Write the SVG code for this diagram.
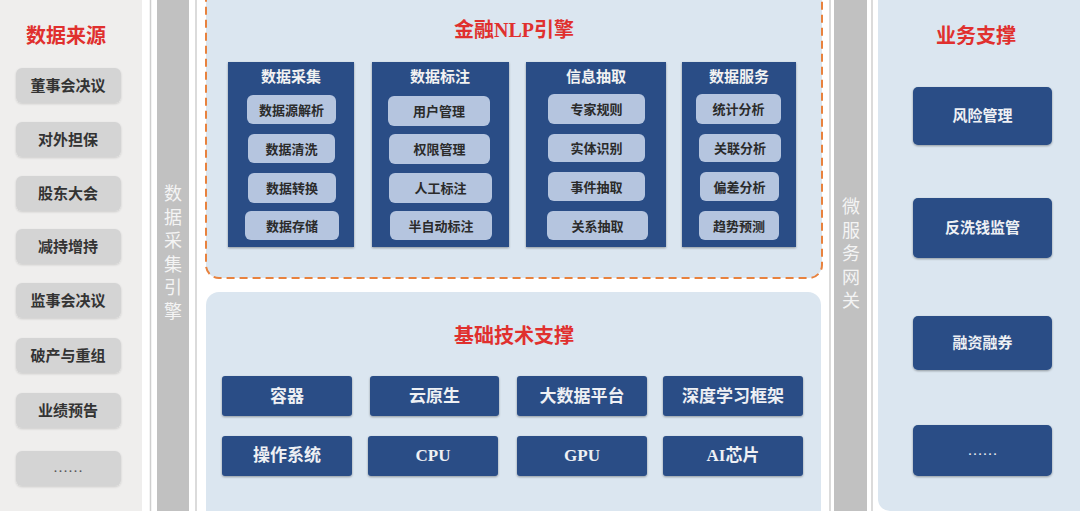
<svg xmlns="http://www.w3.org/2000/svg" width="1080" height="511" viewBox="0 0 1080 511">
<defs>
<style>
.t{font-family:"Liberation Serif","Noto Sans CJK SC",serif;font-weight:bold;text-anchor:middle;dominant-baseline:central}
.red{fill:#e0302e;font-size:20px}
.src{fill:#d4d4d4}
.srct{fill:#333;font-size:15px}
.col{fill:#294d86}
.sub{fill:#b5c5df}
.subt{fill:#2b2b2b;font-size:13px}
.colt{fill:#f2f2f2;font-size:15px}
.blu{fill:#294d86}
.blut{fill:#eef0f4;font-size:17px}
.bizt{fill:#eef0f4;font-size:15px}
.vt{font-family:"Noto Sans CJK SC",sans-serif;fill:#f4f4f4;font-size:18px;text-anchor:middle}
.panel{fill:#dbe6f0}
.thin{stroke:#cfcfcf;stroke-width:1.5}
</style>
<filter id="sh" x="-10%" y="-10%" width="120%" height="130%">
<feDropShadow dx="0" dy="1" stdDeviation="1.2" flood-color="#000" flood-opacity="0.35"/>
</filter>
<filter id="sh2" x="-10%" y="-10%" width="120%" height="130%">
<feDropShadow dx="0" dy="1" stdDeviation="1" flood-color="#000" flood-opacity="0.15"/>
</filter>
</defs>
<rect width="1080" height="511" fill="#ffffff"/>

<!-- Left data source panel -->
<g id="sources">
<rect x="0" y="0" width="142" height="511" fill="#efeeed"/>
<text class="t red" x="66" y="36">数据来源</text>
<g filter="url(#sh2)">
<rect class="src" x="16" y="68" width="105" height="35" rx="6"/>
<rect class="src" x="16" y="122" width="105" height="35" rx="6"/>
<rect class="src" x="16" y="176" width="105" height="35" rx="6"/>
<rect class="src" x="16" y="229" width="105" height="35" rx="6"/>
<rect class="src" x="16" y="283" width="105" height="35" rx="6"/>
<rect class="src" x="16" y="338" width="105" height="35" rx="6"/>
<rect class="src" x="16" y="393" width="105" height="35" rx="6"/>
<rect class="src" x="16" y="451" width="105" height="35" rx="6"/>
</g>
<text class="t srct" x="68" y="86">董事会决议</text>
<text class="t srct" x="68" y="140">对外担保</text>
<text class="t srct" x="68" y="194">股东大会</text>
<text class="t srct" x="68" y="247">减持增持</text>
<text class="t srct" x="68" y="301">监事会决议</text>
<text class="t srct" x="68" y="356">破产与重组</text>
<text class="t srct" x="68" y="411">业绩预告</text>
<text class="t srct" x="68" y="467" style="font-weight:normal;fill:#555">……</text>
</g>

<!-- Data collection engine bar -->
<g id="collect-engine">
<line class="thin" x1="150.5" y1="0" x2="150.5" y2="511"/>
<line class="thin" x1="196" y1="0" x2="196" y2="511"/>
<rect x="157" y="0" width="32" height="511" fill="#c1c1c1"/>
<text class="vt" x="173" y="200"><tspan x="173">数</tspan><tspan x="173" dy="23.5">据</tspan><tspan x="173" dy="23.5">采</tspan><tspan x="173" dy="23.5">集</tspan><tspan x="173" dy="23.5">引</tspan><tspan x="173" dy="23.5">擎</tspan></text>
</g>

<!-- Microservice gateway bar -->
<g id="gateway">
<line class="thin" x1="830" y1="0" x2="830" y2="511"/>
<line class="thin" x1="872" y1="0" x2="872" y2="511"/>
<rect x="834" y="0" width="33" height="511" fill="#c1c1c1"/>
<text class="vt" x="851" y="213"><tspan x="851">微</tspan><tspan x="851" dy="23.5">服</tspan><tspan x="851" dy="23.5">务</tspan><tspan x="851" dy="23.5">网</tspan><tspan x="851" dy="23.5">关</tspan></text>
</g>

<!-- NLP engine -->
<g id="nlp-engine">
<rect x="206" y="-12" width="616" height="290" rx="13" fill="#dbe6f0" stroke="#e8823e" stroke-width="2" stroke-dasharray="8 5"/>
<text class="t red" x="514" y="30">金融NLP引擎</text>
</g>

<g id="col-collect">
<rect class="col" x="228" y="62" width="126" height="185" filter="url(#sh)"/>
<text class="t colt" x="291" y="77">数据采集</text>
<rect class="sub" x="247" y="95" width="89" height="29" rx="6"/>
<rect class="sub" x="248" y="134" width="87" height="29" rx="6"/>
<rect class="sub" x="248" y="173" width="88" height="30" rx="6"/>
<rect class="sub" x="245" y="211" width="94" height="29" rx="6"/>
<text class="t subt" x="291.5" y="110">数据源解析</text>
<text class="t subt" x="291.5" y="149">数据清洗</text>
<text class="t subt" x="292" y="188">数据转换</text>
<text class="t subt" x="292" y="226">数据存储</text>
</g>

<g id="col-label">
<rect class="col" x="372" y="62" width="137" height="185" filter="url(#sh)"/>
<text class="t colt" x="440" y="77">数据标注</text>
<rect class="sub" x="388" y="96" width="102" height="30" rx="6"/>
<rect class="sub" x="389" y="134" width="101" height="30" rx="6"/>
<rect class="sub" x="389" y="173" width="103" height="30" rx="6"/>
<rect class="sub" x="390" y="211" width="102" height="29" rx="6"/>
<text class="t subt" x="439" y="111">用户管理</text>
<text class="t subt" x="439.5" y="149">权限管理</text>
<text class="t subt" x="440.5" y="188">人工标注</text>
<text class="t subt" x="441" y="226">半自动标注</text>
</g>

<g id="col-extract">
<rect class="col" x="526" y="62" width="140" height="185" filter="url(#sh)"/>
<text class="t colt" x="596" y="77">信息抽取</text>
<rect class="sub" x="548" y="94" width="97" height="30" rx="6"/>
<rect class="sub" x="548" y="134" width="97" height="28" rx="6"/>
<rect class="sub" x="548" y="172" width="97" height="29" rx="6"/>
<rect class="sub" x="547" y="211" width="101" height="29" rx="6"/>
<text class="t subt" x="596.5" y="109">专家规则</text>
<text class="t subt" x="596.5" y="148">实体识别</text>
<text class="t subt" x="596.5" y="187">事件抽取</text>
<text class="t subt" x="597.5" y="226">关系抽取</text>
</g>

<g id="col-service">
<rect class="col" x="682" y="62" width="114" height="185" filter="url(#sh)"/>
<text class="t colt" x="739" y="77">数据服务</text>
<rect class="sub" x="696" y="94" width="85" height="30" rx="6"/>
<rect class="sub" x="699" y="134" width="82" height="28" rx="6"/>
<rect class="sub" x="700" y="172" width="79" height="29" rx="6"/>
<rect class="sub" x="699" y="211" width="80" height="29" rx="6"/>
<text class="t subt" x="738.5" y="109">统计分析</text>
<text class="t subt" x="740" y="148">关联分析</text>
<text class="t subt" x="739.5" y="187">偏差分析</text>
<text class="t subt" x="739" y="226">趋势预测</text>
</g>

<!-- Basic technology support -->
<g id="base-tech">
<rect class="panel" x="206" y="292" width="615" height="240" rx="13"/>
<text class="t red" x="514" y="336">基础技术支撑</text>
</g>
<g id="base-items">
<g filter="url(#sh)">
<rect class="blu" x="222" y="376" width="130" height="40" rx="3"/>
<rect class="blu" x="370" y="376" width="129" height="40" rx="3"/>
<rect class="blu" x="517" y="376" width="130" height="40" rx="3"/>
<rect class="blu" x="663" y="376" width="140" height="40" rx="3"/>
<rect class="blu" x="222" y="436" width="130" height="40" rx="3"/>
<rect class="blu" x="368" y="436" width="130" height="40" rx="3"/>
<rect class="blu" x="517" y="436" width="130" height="40" rx="3"/>
<rect class="blu" x="663" y="436" width="140" height="40" rx="3"/>
</g>
<text class="t blut" x="287" y="396">容器</text>
<text class="t blut" x="434.5" y="396">云原生</text>
<text class="t blut" x="582" y="396">大数据平台</text>
<text class="t blut" x="733" y="396">深度学习框架</text>
<text class="t blut" x="287" y="455">操作系统</text>
<text class="t blut" x="433" y="455">CPU</text>
<text class="t blut" x="582" y="455">GPU</text>
<text class="t blut" x="733" y="455">AI芯片</text>
</g>

<!-- Business support -->
<g id="business">
<rect class="panel" x="878" y="0" width="220" height="511" rx="12"/>
<rect class="panel" x="878" y="0" width="220" height="20"/>
<text class="t red" x="976" y="36">业务支撑</text>
<g filter="url(#sh)">
<rect class="blu" x="913" y="87" width="139" height="58" rx="5"/>
<rect class="blu" x="913" y="198" width="139" height="60" rx="5"/>
<rect class="blu" x="913" y="316" width="139" height="54" rx="5"/>
<rect class="blu" x="913" y="425" width="139" height="51" rx="5"/>
</g>
<text class="t bizt" x="982.5" y="116">风险管理</text>
<text class="t bizt" x="982.5" y="228">反洗钱监管</text>
<text class="t bizt" x="982.5" y="343">融资融券</text>
<text class="t bizt" x="982.5" y="450" style="font-weight:normal">……</text>
</g>
</svg>
